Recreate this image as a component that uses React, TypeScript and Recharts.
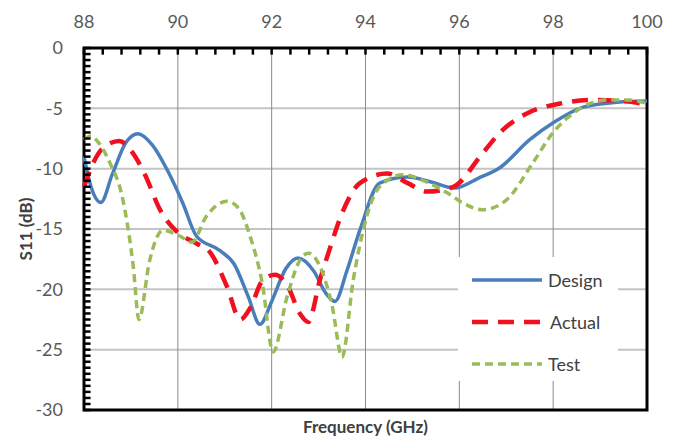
import React from "react"
import {
  LineChart,
  Line,
  XAxis,
  YAxis,
  CartesianGrid,
  ReferenceArea,
  ReferenceLine,
} from "recharts"

// frequency (GHz) / S11 (dB)
const designFreq = [88.0, 88.15, 88.36, 88.6, 88.9, 89.15, 89.45, 89.8, 90.1, 90.4, 90.9, 91.2, 91.5, 91.75, 92.0, 92.3, 92.56, 92.9, 93.15, 93.35, 93.6, 93.88, 94.3, 94.9, 95.4, 95.9, 96.4, 96.87, 97.5, 98.0, 98.64, 99.36, 100]
const designS11 = [-9.0, -11.5, -12.8, -10.5, -7.8, -7.1, -8.0, -10.3, -12.8, -15.6, -16.8, -17.9, -20.6, -22.9, -21.0, -18.3, -17.4, -18.5, -20.3, -21.0, -18.5, -15.1, -11.2, -10.7, -11.1, -11.6, -10.8, -9.9, -7.6, -6.2, -4.9, -4.5, -4.4]

const actualFreq = [88.0, 88.2, 88.4, 88.75, 89.0, 89.3, 89.62, 90.0, 90.4, 90.7, 91.05, 91.33, 91.55, 91.8, 92.07, 92.35, 92.6, 92.78, 93.03, 93.25, 93.5, 93.88, 94.46, 94.9, 95.3, 95.87, 96.5, 96.87, 97.45, 98.15, 98.85, 99.5, 100]
const actualS11 = [-11.5, -9.5, -8.3, -7.7, -8.5, -10.5, -13.4, -15.3, -16.2, -17.0, -19.8, -22.5, -21.5, -19.3, -18.8, -19.8, -22.0, -22.7, -19.2, -16.5, -13.7, -11.2, -10.4, -11.2, -11.9, -11.5, -8.7, -7.0, -5.4, -4.6, -4.3, -4.4, -4.7]

const testFreq = [88.0, 88.15, 88.3, 88.55, 88.83, 89.05, 89.17, 89.4, 89.68, 90.05, 90.3, 90.6, 91.05, 91.3, 91.54, 91.8, 92.03, 92.33, 92.6, 92.78, 93.03, 93.29, 93.5, 93.74, 93.95, 94.3, 94.8, 95.3, 95.74, 96.1, 96.5, 97.0, 97.57, 98.0, 98.43, 99.15, 99.6, 100]
const testS11 = [-7.6, -7.3, -7.8, -9.5, -12.6, -18.1, -22.5, -17.6, -15.1, -15.6, -16.1, -14.0, -12.7, -13.3, -15.6, -19.5, -25.2, -20.6, -17.6, -17.0, -18.1, -21.4, -25.6, -19.2, -15.1, -11.5, -10.5, -11.1, -12.0, -12.9, -13.4, -12.6, -9.5, -7.0, -5.4, -4.3, -4.3, -4.6]

const xTicks = [88, 90, 92, 94, 96, 98, 100]
const yTicks = [0, -5, -10, -15, -20, -25, -30]

const toRows = (f: number[], s: number[]) => f.map((v, i) => ({ f: v, s: s[i] }))

const series = [
  { name: "Design", rows: toRows(designFreq, designS11), color: "#4A7EBB", width: 3.5, dash: undefined as string | undefined },
  { name: "Actual", rows: toRows(actualFreq, actualS11), color: "#F01020", width: 4.5, dash: "16 10" },
  { name: "Test", rows: toRows(testFreq, testS11), color: "#9BBB59", width: 3.5, dash: "8 5" },
]

// small inward ticks on the top and left edges
const minorX = Array.from({ length: 31 }, (_, i) => 88 + i * 0.4)
const minorY = Array.from({ length: 61 }, (_, i) => -i * 0.5)

const font = "Lato, 'Liberation Sans', sans-serif"
const tickStyle = { fill: "#595959", fontSize: 18, fontFamily: font }

function LegendBox() {
  return (
    <div
      style={{
        position: "absolute",
        left: 458,
        top: 257,
        width: 160,
        height: 124,
        background: "#fff",
        fontFamily: font,
        fontSize: 18,
        color: "#404040",
      }}
    >
      {series.map((s, i) => (
        <div key={s.name} style={{ position: "absolute", left: 14, top: 10 + i * 42, height: 26, display: "flex", alignItems: "center" }}>
          <svg width={72} height={8}>
            <line x1={0} y1={4} x2={70} y2={4} stroke={s.color} strokeWidth={s.width} strokeDasharray={s.dash} />
          </svg>
          <span style={{ marginLeft: i === 1 ? 6 : 4 }}>{s.name}</span>
        </div>
      ))}
    </div>
  )
}

export default function App() {
  return (
    <div style={{ position: "absolute", left: 0, top: 0, width: 674, height: 443, background: "#fff" }}>
      <LineChart width={674} height={443} margin={{ top: 18, right: 27, bottom: 33, left: 0 }}>
        <CartesianGrid vertical={false} stroke="#c4c4c4" strokeWidth={2} />
        <CartesianGrid horizontal={false} stroke="#8a8a8a" strokeWidth={1} />
        <XAxis
          dataKey="f"
          type="number"
          orientation="top"
          domain={[88, 100]}
          ticks={xTicks}
          height={30}
          axisLine={false}
          tickLine={false}
          tickSize={0}
          tickMargin={20}
          tick={tickStyle}
          allowDuplicatedCategory={false}
        />
        <YAxis
          type="number"
          domain={[-30, 0]}
          ticks={yTicks}
          width={84}
          axisLine={false}
          tickLine={false}
          tickSize={0}
          tickMargin={21}
          tick={tickStyle}
        />
        {series.map((s) => (
          <Line
            key={s.name}
            data={s.rows}
            dataKey="s"
            name={s.name}
            type="monotone"
            stroke={s.color}
            strokeWidth={s.width}
            strokeDasharray={s.dash}
            dot={false}
            activeDot={false}
            isAnimationActive={false}
          />
        ))}
        {minorX.map((x) => (
          <ReferenceLine key={"mx" + x} segment={[{ x, y: 0 }, { x, y: -0.55 }]} stroke="#000" strokeWidth={2.5} ifOverflow="visible" />
        ))}
        {minorY.map((y) => (
          <ReferenceLine key={"my" + y} segment={[{ x: 88, y }, { x: 88.14, y }]} stroke="#000" strokeWidth={2.5} ifOverflow="visible" />
        ))}
        <ReferenceArea x1={88} x2={100} y1={-30} y2={0} fill="none" stroke="#000" strokeWidth={3} ifOverflow="visible" />
      </LineChart>
      <LegendBox />
      <div
        style={{
          position: "absolute",
          left: 84,
          width: 563,
          top: 416,
          textAlign: "center",
          fontFamily: font,
          fontWeight: 700,
          fontSize: 17,
          color: "#404040",
        }}
      >
        Frequency (GHz)
      </div>
      <div
        style={{
          position: "absolute",
          left: 25,
          top: 229,
          transform: "translate(-50%, -50%) rotate(-90deg)",
          whiteSpace: "nowrap",
          fontFamily: font,
          fontWeight: 700,
          fontSize: 17,
          color: "#404040",
        }}
      >
        S11 (dB)
      </div>
    </div>
  )
}
